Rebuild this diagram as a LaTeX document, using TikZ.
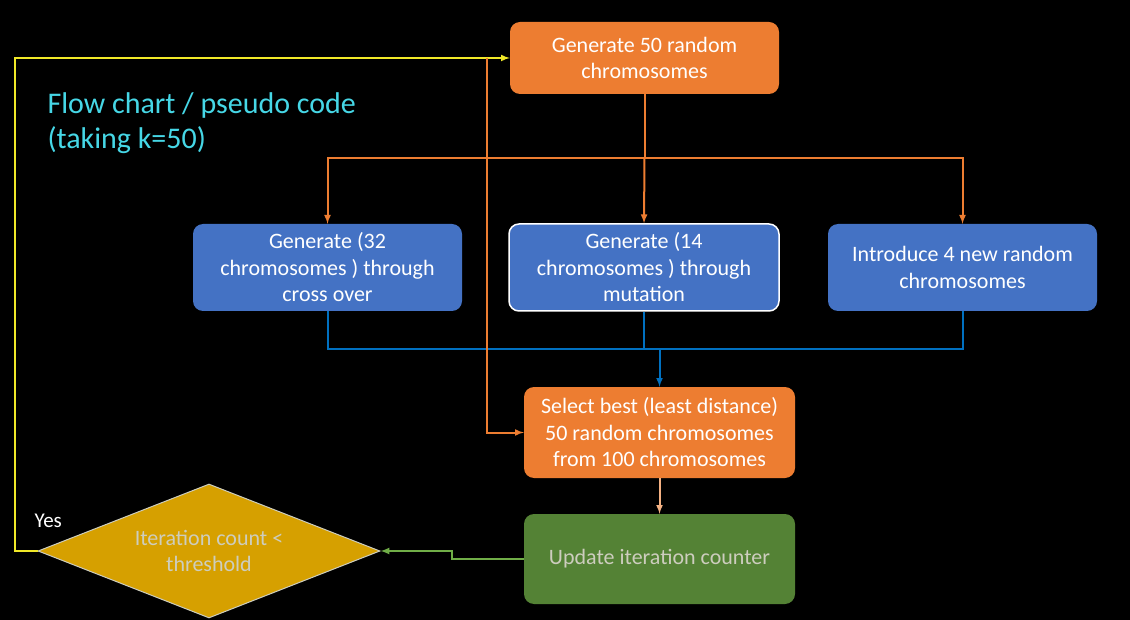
\documentclass[tikz,border=0pt]{standalone}
\usepackage{fontspec}
\setmainfont{Carlito}
\usepackage{xcolor}
\usetikzlibrary{shapes.geometric, positioning}
\definecolor{boxorange}{RGB}{237,125,49}
\definecolor{boxblue}{RGB}{68,114,196}
\definecolor{boxgreen}{RGB}{84,130,53}
\definecolor{boxgold}{RGB}{214,160,0}
\definecolor{lineblue}{RGB}{0,112,192}
\definecolor{linetan}{RGB}{244,177,131}
\definecolor{linegreen}{RGB}{112,173,71}
\definecolor{lineyellow}{RGB}{240,232,40}
\definecolor{titlecyan}{RGB}{70,215,230}
\definecolor{dimtext}{RGB}{205,205,190}

\begin{document}
\begin{tikzpicture}[x=1pt, y=-1pt,
  flowbox/.style={rounded corners=10pt, align=center, inner sep=0pt, text=white, font=\fontsize{22}{26.5}\selectfont},
  flowline/.style={line width=2pt, -latex}]
\fill [black] (0, 0) rectangle (1130, 620);
\useasboundingbox (0, 0) rectangle (1130, 620);
\node [anchor=north west, align=left, text=titlecyan, font=\fontsize{30}{35}\selectfont] (title) at (44, 89) {Flow chart / pseudo code\\(taking k=50)};
\node [flowbox, fill=boxorange, minimum width=269, minimum height=72] (init) at (644.5, 58) {Generate 50 random\\chromosomes};
\node [flowbox, fill=boxblue, minimum width=269, minimum height=87] (cross) at (327.5, 267.5) {Generate (32\\chromosomes ) through\\cross over};
\node [flowbox, fill=boxblue, draw=white, line width=1.5pt, minimum width=270, minimum height=87] (mut) at (644, 267.5) {Generate (14\\chromosomes ) through\\mutation};
\node [flowbox, fill=boxblue, minimum width=269, minimum height=87] (intro) at (962.5, 267.5) {Introduce 4 new random\\chromosomes};
\node [flowbox, fill=boxorange, minimum width=271, minimum height=91] (select) at (659.5, 432.5) {Select best (least distance)\\50 random chromosomes\\from 100 chromosomes};
\node [flowbox, fill=boxgreen, text=dimtext, minimum width=271, minimum height=90] (update) at (659.5, 559) {Update iteration counter};
\node [diamond, aspect=2.55, fill=boxgold, draw=dimtext, line width=1pt, align=center, inner sep=0pt, text=dimtext, font=\fontsize{22}{26.5}\selectfont, minimum width=342, minimum height=134] (check) at (209, 551) {Iteration count <\\threshold};
\node [text=white, font=\fontsize{21}{24}\selectfont, anchor=base west] (yes) at (31, 527) {Yes};
\coordinate (split) at (644.5, 158);
\coordinate (merge) at (659.5, 349);
\coordinate (loopcorner) at (15, 58);
\coordinate (tap) at (487, 58);
\draw [line width=2pt, boxorange] (init.south) -- (split);
\draw [flowline, boxorange] (split) -| (cross.north);
\draw [flowline, boxorange] (split) -| (intro.north);
\draw [flowline, boxorange] (split) -- (mut.north);
\draw [line width=2pt, lineblue] (cross.south) |- (merge);
\draw [line width=2pt, lineblue] (intro.south) |- (merge);
\draw [line width=2pt, lineblue] (mut.south) -- (mut.south |- merge);
\draw [flowline, lineblue] (merge) -- (select.north);
\draw [flowline, linetan] (select.south) -- (update.north);
\draw [flowline, linegreen] (update.west) -- ++(-72, 0) |- (check.east);
\draw [flowline, lineyellow] (check.west) -| (loopcorner) -- (init.west);
\draw [flowline, boxorange] (tap) |- (select.west);
\end{tikzpicture}
\end{document}
